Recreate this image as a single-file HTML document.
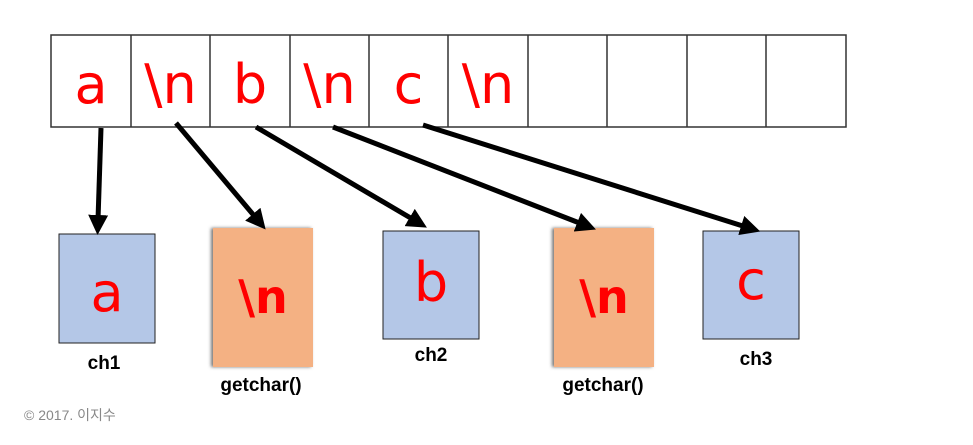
<!DOCTYPE html>
<html><head><style>
body{margin:0;width:973px;height:445px;background:#fff;overflow:hidden;position:relative;font-family:"Liberation Sans","Noto Sans CJK KR",sans-serif}
.t{position:absolute;font-family:"DejaVu Sans","Liberation Sans",sans-serif;color:#f00;text-align:center;line-height:1}
.l{position:absolute;font-weight:bold;font-size:19px;color:#000;text-align:center;width:120px}
</style></head><body>
<svg width="973" height="445" style="position:absolute;left:0;top:0">
<defs><marker id="a" markerWidth="4" markerHeight="4" refX="1" refY="2" orient="auto"><path d="M0,0L4,2L0,4z" fill="#000"/></marker>
<filter id="s"><feDropShadow dx="-2" dy="0" stdDeviation="1.5" flood-color="#555" flood-opacity="0.8"/></filter></defs>
<rect x="51" y="35" width="795" height="92" fill="#fff" stroke="#333" stroke-width="1.5"/>
<g stroke="#333" stroke-width="1.5">
<line x1="131" y1="35" x2="131" y2="127"/><line x1="210" y1="35" x2="210" y2="127"/><line x1="290" y1="35" x2="290" y2="127"/><line x1="369" y1="35" x2="369" y2="127"/><line x1="448" y1="35" x2="448" y2="127"/><line x1="528" y1="35" x2="528" y2="127"/><line x1="607" y1="35" x2="607" y2="127"/><line x1="687" y1="35" x2="687" y2="127"/><line x1="766" y1="35" x2="766" y2="127"/>
</g>
<rect x="59" y="234" width="96" height="109" fill="#b4c7e7" stroke="#222" stroke-width="1"/>
<rect x="213" y="228" width="100" height="139" fill="#f4b183" filter="url(#s)"/>
<rect x="383" y="231" width="96" height="108" fill="#b4c7e7" stroke="#222" stroke-width="1"/>
<rect x="554" y="228" width="100" height="139" fill="#f4b183" filter="url(#s)"/>
<rect x="703" y="231" width="96" height="108" fill="#b4c7e7" stroke="#222" stroke-width="1"/>
<g stroke="#000" stroke-width="5" marker-end="url(#a)">
<line x1="101" y1="128" x2="98" y2="220"/>
<line x1="176" y1="123" x2="256" y2="218"/>
<line x1="256" y1="127" x2="414" y2="220"/>
<line x1="333" y1="127" x2="582" y2="224"/>
<line x1="423" y1="125" x2="746" y2="227"/>
</g>
</svg>
<div class="t" style="left:51px;top:58px;width:80px;font-size:54px">a</div>
<div class="t" style="left:131px;top:58px;width:79px;font-size:54px">\n</div>
<div class="t" style="left:210px;top:58px;width:80px;font-size:54px">b</div>
<div class="t" style="left:290px;top:58px;width:79px;font-size:54px">\n</div>
<div class="t" style="left:369px;top:58px;width:79px;font-size:54px">c</div>
<div class="t" style="left:448px;top:58px;width:80px;font-size:54px">\n</div>
<div class="t" style="left:59px;top:266px;width:96px;font-size:54px">a</div>
<div class="t" style="left:213px;top:274px;width:100px;font-size:46px;font-weight:bold">\n</div>
<div class="t" style="left:383px;top:256px;width:96px;font-size:54px">b</div>
<div class="t" style="left:554px;top:274px;width:100px;font-size:46px;font-weight:bold">\n</div>
<div class="t" style="left:703px;top:254px;width:96px;font-size:54px">c</div>
<div class="l" style="left:44px;top:353px">ch1</div>
<div class="l" style="left:201px;top:375px">getchar()</div>
<div class="l" style="left:371px;top:345px">ch2</div>
<div class="l" style="left:543px;top:375px">getchar()</div>
<div class="l" style="left:696px;top:349px">ch3</div>
<div style="position:absolute;left:24px;top:405px;font-size:14px;color:#888">© 2017. 이지수</div>
</body></html>
